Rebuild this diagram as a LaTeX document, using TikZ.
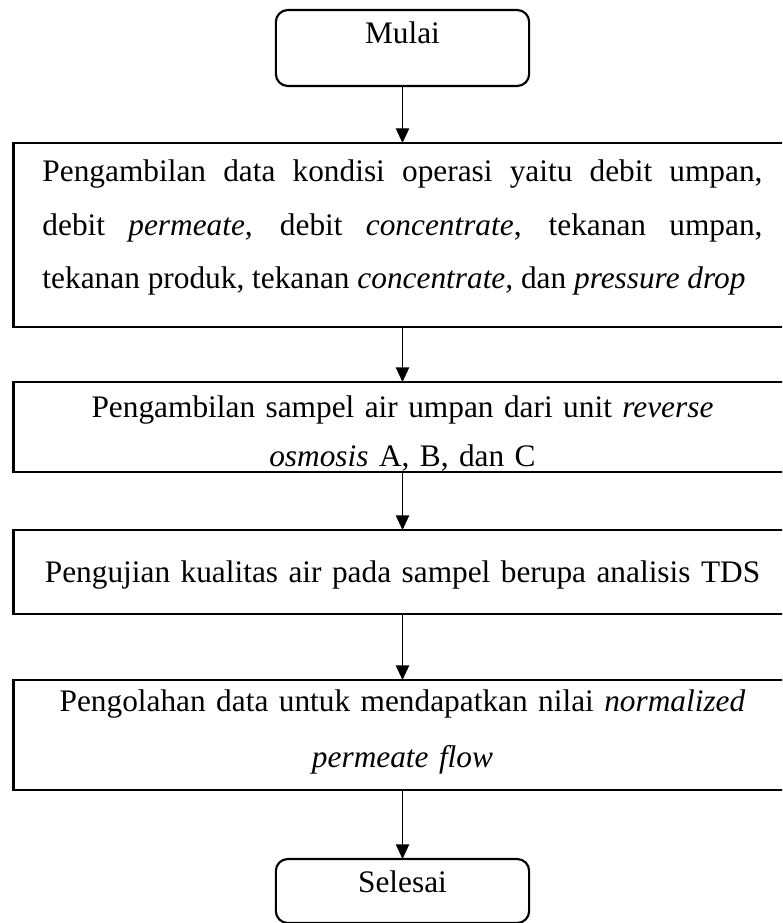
\documentclass[tikz,border=0pt]{standalone}
\usepackage{fontspec}
\setmainfont{Liberation Serif}
\usetikzlibrary{positioning,arrows.meta}

\tikzset{
  terminal/.style={draw, line width=1.6pt, rounded corners=9pt, minimum width=190pt, inner sep=0pt, outer sep=0pt},
  proses/.style={draw, line width=1.6pt, minimum width=583.5pt, text width=540pt, inner sep=0pt, outer sep=0pt},
  panah/.style={-{Triangle[width=10pt,length=11pt]}, line width=1pt}
}

\begin{document}
\begin{tikzpicture}[font=\fontsize{23.5}{40}\selectfont]
\clip (-301.875pt,7.5pt) rectangle (284.625pt,-684.75pt);
\node[terminal, text height=25.5pt, text depth=31.5pt, anchor=north](mulai) at (0,0){Mulai};
\node[proses, align=justify, text height=29.25pt, text depth=108.75pt, below=42.75pt of mulai](ambildata){Pengambilan data kondisi operasi yaitu debit umpan,\linebreak debit \textit{permeate,} debit \textit{concentrate}, tekanan umpan,\linebreak tekanan produk, tekanan \textit{concentrate,} dan \textit{pressure drop}};
\node[proses, align=center, font=\fontsize{23.5}{36.75}\selectfont, text height=26.25pt, text depth=41.25pt, below=41.25pt of ambildata](sampel){Pengambilan sampel air umpan dari unit \textit{reverse}\\ \textit{osmosis} A, B, dan C};
\node[proses, align=center, text height=39pt, text depth=24pt, below=43.5pt of sampel](uji){Pengujian kualitas air pada sampel berupa analisis TDS};
\node[proses, align=center, font=\fontsize{23.5}{42}\selectfont, text height=23.25pt, text depth=59.25pt, below=49.5pt of uji](olah){Pengolahan data untuk mendapatkan nilai \textit{normalized}\\ \textit{permeate flow}};
\node[terminal, text height=24.75pt, text depth=23.25pt, below=51.75pt of olah](selesai){Selesai};
\draw[panah] (mulai) -- (ambildata);
\draw[panah] (ambildata) -- (sampel);
\draw[panah] (sampel) -- (uji);
\draw[panah] (uji) -- (olah);
\draw[panah] (olah) -- (selesai);
\end{tikzpicture}
\end{document}
